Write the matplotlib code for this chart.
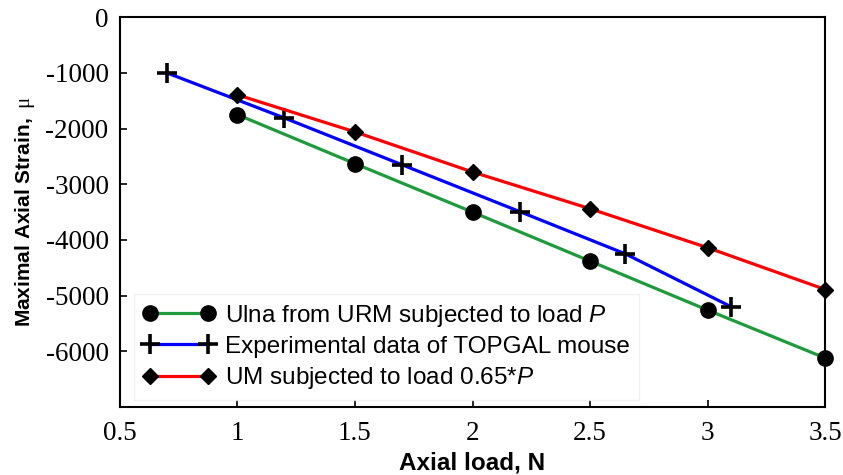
import matplotlib
matplotlib.use("Agg")
import matplotlib.pyplot as plt

plt.rcParams['mathtext.fontset'] = 'custom'
plt.rcParams['mathtext.it'] = 'Liberation Sans:italic'
plt.rcParams['mathtext.rm'] = 'Liberation Serif'
plt.rcParams['mathtext.bf'] = 'Liberation Sans:bold'

# data
x_ulna = [1, 1.5, 2, 2.5, 3, 3.5]
y_ulna = [-1750, -2630, -3500, -4380, -5260, -6120]

x_exp = [0.7, 1.2, 1.7, 2.2, 2.65, 3.1]
y_exp = [-1000, -1810, -2650, -3490, -4250, -5200]

x_um = [1, 1.5, 2, 2.5, 3, 3.5]
y_um = [-1395, -2060, -2780, -3440, -4140, -4890]

xticks = [0.5, 1, 1.5, 2, 2.5, 3, 3.5]
yticks = [0, -1000, -2000, -3000, -4000, -5000, -6000]

fig = plt.figure(figsize=(8.43, 4.75), dpi=100)
ax = fig.add_axes([0.142, 0.143, 0.837, 0.821])

ax.plot(x_ulna, y_ulna, color='#1f9a3c', lw=2.3, marker='o', ms=11,
        mfc='black', mec='black', label=r'Ulna from URM subjected to load $\it{P}$', clip_on=False, zorder=3)
ax.plot(x_exp, y_exp, color='#0000ff', lw=2.3, marker='+', ms=14, mew=2.6,
        mec='black', label='Experimental data of TOPGAL mouse', clip_on=False, zorder=3)
ax.plot(x_um, y_um, color='#ff0000', lw=2.3, marker='D', ms=8.5,
        mfc='black', mec='black', label=r'UM subjected to load 0.65*$\it{P}$', clip_on=False, zorder=3)

ax.set_xlim(0.5, 3.5)
ax.set_ylim(-7000, 0)
ax.set_xticks(xticks)
ax.set_xticklabels([('%g' % t) for t in xticks], family='Liberation Serif', fontsize=19.5)
ax.set_yticks(yticks)
ax.set_yticklabels([('%d' % t) for t in yticks], family='Liberation Serif', fontsize=19.5)
ax.tick_params(direction='in', length=5, width=1.2)
ax.tick_params(axis='x', pad=10)
ax.tick_params(axis='y', pad=8)
for s in ax.spines.values():
    s.set_linewidth(1.5)

ax.set_xlabel('Axial load, N', family='Liberation Sans', fontweight='bold', fontsize=17.5, labelpad=4)
ax.set_ylabel(r'$\mathbf{Maximal\ Axial\ Strain,}\ \mathrm{\mu}$', fontsize=15, labelpad=6)

leg = ax.legend(loc='lower left', numpoints=2, handlelength=3.0, prop={'family': 'Liberation Sans', 'size': 17.5},
                frameon=True, fancybox=False, borderaxespad=0.3, labelspacing=0.3, handletextpad=0.4,
                borderpad=0.35, bbox_to_anchor=(0.01, 0.0))
leg.get_frame().set_edgecolor('#eeeeee')
leg.get_frame().set_linewidth(1.0)

fig.savefig('out.png', dpi=100)
